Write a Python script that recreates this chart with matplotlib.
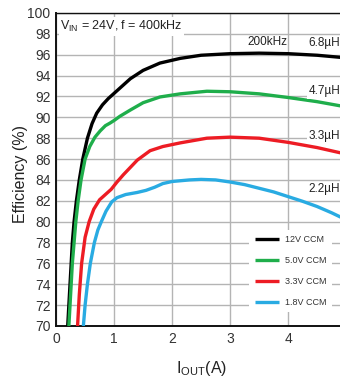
import numpy as np
import matplotlib
matplotlib.use('Agg')
import matplotlib.pyplot as plt

plt.rcParams['font.family'] = ['Liberation Sans Narrow', 'Liberation Sans', 'DejaVu Sans']
plt.rcParams['mathtext.fontset'] = 'custom'
plt.rcParams['mathtext.rm'] = 'Liberation Sans Narrow'
plt.rcParams['mathtext.default'] = 'regular'

# curves (IOUT in A, efficiency in %)
x_12v = [0.20, 0.22, 0.25, 0.28, 0.31, 0.35, 0.40, 0.46, 0.54, 0.62, 0.70, 0.80, 0.90, 1.00, 1.10, 1.28, 1.50, 1.79, 2.14, 2.50, 3.00, 3.50, 4.00, 4.50, 4.90, 5.0]
y_12v = [70, 72, 75, 78, 80, 82, 84, 86, 88, 89.4, 90.4, 91.2, 91.8, 92.3, 92.8, 93.7, 94.5, 95.2, 95.65, 95.95, 96.1, 96.15, 96.1, 95.95, 95.75, 95.7]

x_5v = [0.22, 0.25, 0.28, 0.31, 0.34, 0.38, 0.43, 0.50, 0.58, 0.67, 0.76, 0.85, 0.93, 1.0, 1.1, 1.28, 1.5, 1.79, 2.14, 2.6, 3.0, 3.5, 4.0, 4.5, 4.9, 5.0]
y_5v = [70, 73, 76, 78, 80, 82, 84, 86, 87.2, 88.1, 88.7, 89.2, 89.45, 89.7, 90.1, 90.7, 91.4, 91.95, 92.25, 92.5, 92.45, 92.25, 91.9, 91.5, 91.1, 91.0]

x_3v3 = [0.37, 0.40, 0.44, 0.50, 0.57, 0.65, 0.75, 0.85, 0.95, 1.05, 1.16, 1.28, 1.40, 1.62, 1.84, 2.14, 2.6, 3.0, 3.5, 4.0, 4.5, 4.9, 5.0]
y_3v3 = [70, 73, 76, 78.5, 80, 81.2, 82.1, 82.6, 83.1, 83.8, 84.5, 85.2, 85.9, 86.8, 87.2, 87.55, 88.0, 88.1, 88.0, 87.6, 87.1, 86.6, 86.45]

x_1v8 = [0.47, 0.50, 0.54, 0.59, 0.66, 0.72, 0.78, 0.86, 0.96, 1.05, 1.2, 1.4, 1.55, 1.7, 1.84, 2.0, 2.3, 2.5, 2.75, 3.0, 3.25, 3.5, 3.75, 4.0, 4.25, 4.5, 4.75, 4.9, 5.0]
y_1v8 = [70, 72, 74, 76, 78, 79.2, 80, 81, 81.9, 82.3, 82.6, 82.8, 83.0, 83.3, 83.65, 83.85, 84.0, 84.05, 84.0, 83.8, 83.55, 83.2, 82.85, 82.4, 81.95, 81.45, 80.85, 80.45, 80.15]

series = [
    (x_12v, y_12v, '#000000', '12V CCM'),
    (x_5v, y_5v, '#1fae4b', '5.0V CCM'),
    (x_3v3, y_3v3, '#ed1c24', '3.3V CCM'),
    (x_1v8, y_1v8, '#29abe2', '1.8V CCM'),
]

inductors = ['6.8µH', '4.7µH', '3.3µH', '2.2µH']
ind_y = [97.1, 92.5, 88.2, 83.1]

fig = plt.figure(figsize=(3.4, 3.81), dpi=100)
ax = fig.add_axes([0.165, 0.1444, 0.853, 0.8215])

for xs, ys, c, lab in series:
    ax.plot(xs, ys, color=c, lw=2.4, label=lab, solid_joinstyle='round', solid_capstyle='butt', zorder=3)

ax.set_xlim(0, 5)
ax.set_ylim(70, 100)
ax.set_xticks(range(0, 6))
ax.set_yticks(range(70, 101, 2))
ax.grid(True, color='#b4b4b4', lw=1.0)
ax.set_axisbelow(True)
ax.tick_params(length=0, labelsize=10, colors='#333333', pad=4)
for s in ['left', 'bottom', 'top']:
    ax.spines[s].set_color('#111111')
    ax.spines[s].set_linewidth(1.4)
ax.spines['top'].set_linewidth(1.0)
ax.spines['right'].set_visible(False)

ax.set_ylabel('Efficiency (%)', fontsize=11.5, color='#222222')
ax.yaxis.set_label_coords(-0.097, 0.487)
ax.set_xlabel('I$_{OUT}$(A)', fontsize=11.5, color='#222222', labelpad=10)

bb = dict(facecolor='white', edgecolor='none', pad=1.2)
ax.text(0.07, 98.7, 'V$_{IN}$ = 24V, f = 400kHz', fontsize=9, color='#222222', va='center', ha='left', bbox=bb, zorder=4)
ax.text(3.3, 97.2, '200kHz', fontsize=8.5, color='#222222', va='center', ha='left', zorder=4)
for lab, yy in zip(inductors, ind_y):
    ax.text(4.35, yy, lab, fontsize=8.5, color='#222222', va='center', ha='left', bbox=bb, zorder=4)

leg = ax.legend(loc='lower left', bbox_to_anchor=(0.651, 0.03), fontsize=6.5, frameon=True,
                handlelength=2.7, labelspacing=1.3, borderpad=0.6, handletextpad=0.6)
leg.get_frame().set_facecolor('white')
leg.get_frame().set_edgecolor('none')
leg.get_frame().set_alpha(1)
for t in leg.get_texts():
    t.set_color('#333333')

fig.savefig('out.png', dpi=100)
